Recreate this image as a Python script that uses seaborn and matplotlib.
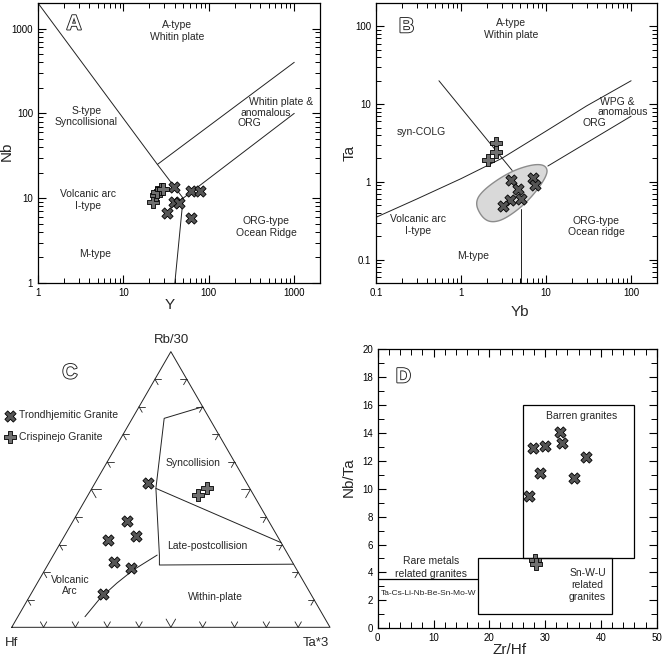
import matplotlib
matplotlib.use("Agg")
import matplotlib.pyplot as plt
import matplotlib.patheffects as pe
from matplotlib.ticker import FuncFormatter, MultipleLocator, LogLocator
import numpy as np
import pandas as pd
import seaborn as sns

sns.set_theme(style="white")
plt.rcParams['font.family'] = ['Liberation Sans', 'DejaVu Sans']

# ---------------- data ----------------
# A: Y vs Nb
a_tr_y = [39, 32.7, 39, 44.8, 62.6, 78.4, 62.6]
a_tr_nb = [13.4, 6.6, 9.0, 8.7, 12.2, 12.2, 5.8]
a_cr_y = [22.4, 23.8, 24.9, 27.2, 29.0]
a_cr_nb = [9.0, 10.8, 11.9, 12.7, 13.0]

# B: Yb vs Ta
b_tr_yb = [3.9, 4.74, 5.1, 3.79, 3.1, 7.1, 7.5]
b_tr_ta = [1.07, 0.80, 0.61, 0.59, 0.49, 1.11, 0.91]
b_cr_yb = [2.55, 2.6, 2.07]
b_cr_ta = [3.18, 2.44, 1.90]

# C: ternary Hf - Rb/30 - Ta*3 (fractions)
c_tr_hf = [0.31, 0.444, 0.444, 0.54, 0.561, 0.518, 0.654]
c_tr_rb = [0.525, 0.386, 0.331, 0.317, 0.236, 0.214, 0.120]
c_tr_ta = [0.165, 0.170, 0.225, 0.143, 0.203, 0.268, 0.226]
c_cr_hf = [0.174, 0.135]
c_cr_rb = [0.480, 0.504]
c_cr_ta = [0.346, 0.361]

# D: Zr/Hf vs Nb/Ta
d_tr_zrhf = [27.1, 27.9, 29.0, 29.9, 32.7, 33.1, 35.2, 37.3]
d_tr_nbta = [9.5, 12.94, 11.1, 13.05, 14.08, 13.3, 10.74, 12.29]
d_cr_zrhf = [28.1, 28.4]
d_cr_nbta = [4.9, 4.6]

# discrimination field boundaries
a_bound_1 = ([1, 25, 50], [2000, 25, 10])
a_bound_2 = ([50, 40], [10, 1])
a_bound_3 = ([25, 1000], [25, 400])
a_bound_4 = ([50, 1000], [10, 100])

b_bound_1 = ([0.1, 0.3, 1, 3, 10, 30, 100], [0.35, 0.6, 1.1, 2, 4.5, 9.5, 20])
b_bound_2 = ([0.55, 4.0], [20, 1.4])
b_bound_3 = ([10.5, 100], [1.6, 7])
b_bound_4 = ([5.1, 5.1], [0.05, 0.45])
b_field_lyb = [0.161, 0.239, 0.356, 0.532, 0.805, 1.020, 1.001, 0.844, 0.571, 0.278]
b_field_lta = [-0.258, -0.451, -0.528, -0.472, -0.236, 0.086, 0.215, 0.228, 0.129, -0.085]

c_syn = ([0.0, 0.142, 0.295, 0.405, 0.423, 0.0], [0.8, 0.758, 0.504, 0.262, 0.226, 0.229],
         [0.2, 0.100, 0.201, 0.333, 0.351, 0.771])
c_late = ([0.295, 0.0], [0.504, 0.307], [0.201, 0.693])
c_arc = ([0.75, 0.67, 0.59, 0.514, 0.412], [0.0385, 0.105, 0.160, 0.208, 0.262],
         [0.211, 0.225, 0.25, 0.278, 0.326])

d_barren = (26, 5, 20, 11)
d_snwu = (18, 1, 24, 4)
d_rare = ([0, 18], [3.5, 3.5])

TR_COLOR = "#555555"
CR_COLOR = "#707070"
LW = 0.7
FS = 7.5


def outline_letter(ax, x, y, s, **kw):
    t = ax.text(x, y, s, fontsize=15, fontweight="bold", color="white",
                ha="center", va="center", **kw)
    t.set_path_effects([pe.Stroke(linewidth=1.3, foreground="#222222"), pe.Normal()])


def plot_pts(ax, x, y, kind):
    if kind == "tr":
        sns.scatterplot(x=x, y=y, ax=ax, marker="X", s=65, color=TR_COLOR,
                        edgecolor="black", linewidth=0.6, zorder=5)
    else:
        sns.scatterplot(x=x, y=y, ax=ax, marker="P", s=65, color=CR_COLOR,
                        edgecolor="black", linewidth=0.6, zorder=5)


def style_box(ax):
    for sp in ax.spines.values():
        sp.set_visible(True)
        sp.set_color("black")
        sp.set_linewidth(0.9)
    ax.tick_params(which="both", direction="in", top=True, right=True,
                   bottom=True, left=True, colors="black", labelsize=7)
    ax.tick_params(which="major", length=6, width=0.8)
    ax.tick_params(which="minor", length=3.5, width=0.7)


fmt = FuncFormatter(lambda v, _: f"{v:g}")

fig = plt.figure(figsize=(6.63, 6.6), dpi=100)

# ---------------- A ----------------
axA = fig.add_axes([0.0573, 0.5712, 0.4253, 0.4242])
axA.set_xscale("log")
axA.set_yscale("log")
axA.set_xlim(1, 2000)
axA.set_ylim(1, 2000)
for bx, by in [a_bound_1, a_bound_2, a_bound_3, a_bound_4]:
    axA.plot(bx, by, color="#222222", lw=LW)
plot_pts(axA, a_tr_y, a_tr_nb, "tr")
plot_pts(axA, a_cr_y, a_cr_nb, "cr")
style_box(axA)
axA.xaxis.set_major_formatter(fmt)
axA.yaxis.set_major_formatter(fmt)
axA.xaxis.set_minor_locator(LogLocator(subs=np.arange(2, 10)))
axA.yaxis.set_minor_locator(LogLocator(subs=np.arange(2, 10)))
axA.set_xlabel("Y", fontsize=11)
axA.set_ylabel("Nb", fontsize=11)
axA.xaxis.set_label_coords(0.468, -0.054)
axA.yaxis.set_label_coords(-0.085, 0.469)
axA.text(43, 935, "A-type\nWhitin plate", fontsize=FS, ha="center", va="center")
axA.text(3.67, 92, "S-type\nSyncollisional", fontsize=FS, ha="center", va="center")
axA.text(703, 135, "Whitin plate &", fontsize=FS, ha="center", va="center")
axA.text(468, 100, "anomalous", fontsize=FS, ha="center", va="center")
axA.text(295, 76, "ORG", fontsize=FS, ha="center", va="center")
axA.text(3.9, 9.5, "Volcanic arc\nI-type", fontsize=FS, ha="center", va="center")
axA.text(4.7, 2.2, "M-type", fontsize=FS, ha="center", va="center")
axA.text(468, 4.6, "ORG-type\nOcean Ridge", fontsize=FS, ha="center", va="center")
outline_letter(axA, 0.128, 0.925, "A", transform=axA.transAxes)

# ---------------- B ----------------
axB = fig.add_axes([0.5671, 0.5712, 0.4234, 0.4242])
axB.set_xscale("log")
axB.set_yscale("log")
axB.set_xlim(0.1, 200)
axB.set_ylim(0.05, 200)

# rounded gray field (corner cutting of the outline)
pts = np.column_stack([b_field_lyb, b_field_lta])
for _ in range(4):
    nxt = np.roll(pts, -1, axis=0)
    q = 0.75 * pts + 0.25 * nxt
    r = 0.25 * pts + 0.75 * nxt
    pts = np.empty((2 * len(q), 2))
    pts[0::2] = q
    pts[1::2] = r
axB.fill(10 ** pts[:, 0], 10 ** pts[:, 1], facecolor="#d9d9d9",
         edgecolor="#8c8c8c", lw=1.0, zorder=2)
for bx, by in [b_bound_1, b_bound_2, b_bound_3, b_bound_4]:
    axB.plot(bx, by, color="#222222", lw=LW, zorder=1)
plot_pts(axB, b_tr_yb, b_tr_ta, "tr")
plot_pts(axB, b_cr_yb, b_cr_ta, "cr")
style_box(axB)
axB.xaxis.set_major_formatter(fmt)
axB.yaxis.set_major_formatter(fmt)
axB.xaxis.set_minor_locator(LogLocator(subs=np.arange(2, 10)))
axB.yaxis.set_minor_locator(LogLocator(subs=np.arange(2, 10)))
axB.set_xlabel("Yb", fontsize=11)
axB.set_ylabel("Ta", fontsize=11)
axB.xaxis.set_label_coords(0.513, -0.079)
axB.yaxis.set_label_coords(-0.069, 0.464)
axB.text(3.9, 92, "A-type\nWithin plate", fontsize=FS, ha="center", va="center")
axB.text(0.344, 4.4, "syn-COLG", fontsize=FS, ha="center", va="center")
axB.text(68.7, 10.7, "WPG &", fontsize=FS, ha="center", va="center")
axB.text(78.7, 8.0, "anomalous", fontsize=FS, ha="center", va="center")
axB.text(36.9, 5.75, "ORG", fontsize=FS, ha="center", va="center")
axB.text(0.31, 0.279, "Volcanic arc\nI-type", fontsize=FS, ha="center", va="center")
axB.text(1.37, 0.110, "M-type", fontsize=FS, ha="center", va="center")
axB.text(38.6, 0.268, "ORG-type\nOcean ridge", fontsize=FS, ha="center", va="center")
outline_letter(axB, 0.109, 0.915, "B", transform=axB.transAxes)

# ---------------- C (ternary) ----------------
axC = fig.add_axes([0, 0, 331 / 663, 330 / 660])
axC.set_xlim(-0.0368, 1.0031)
axC.set_ylim(-0.1027, 0.934)
axC.axis("off")
H = np.sqrt(3) / 2


def tern(hf, rb, ta):
    rb = np.asarray(rb, dtype=float)
    ta = np.asarray(ta, dtype=float)
    return ta + rb / 2, rb * H


axC.plot([0, 1, 0.5, 0], [0, 0, H, 0], color="#222222", lw=LW)
L = 0.02
for i in range(1, 10):
    f = i / 10
    ln = L * 1.5 if i == 5 else L
    # left side
    px, py = 0.5 * f, H * f
    axC.plot([px, px + ln], [py, py], color="#222222", lw=0.6)
    axC.plot([px, px + 0.5 * ln], [py, py - H * ln], color="#222222", lw=0.6)
    # right side
    px, py = 1 - 0.5 * f, H * f
    axC.plot([px, px - ln], [py, py], color="#222222", lw=0.6)
    axC.plot([px, px - 0.5 * ln], [py, py - H * ln], color="#222222", lw=0.6)
    # bottom
    px, py = f, 0
    axC.plot([px, px - 0.5 * ln], [py, py + H * ln], color="#222222", lw=0.6)
    axC.plot([px, px + 0.5 * ln], [py, py + H * ln], color="#222222", lw=0.6)

for hf, rb, ta in [c_syn, c_late, c_arc]:
    tx, ty = tern(hf, rb, ta)
    axC.plot(tx, ty, color="#222222", lw=LW)

tx, ty = tern(c_tr_hf, c_tr_rb, c_tr_ta)
sns.scatterplot(x=tx, y=ty, ax=axC, marker="X", s=65, color=TR_COLOR,
                edgecolor="black", linewidth=0.6, zorder=5, label="Trondhjemitic Granite")
tx, ty = tern(c_cr_hf, c_cr_rb, c_cr_ta)
sns.scatterplot(x=tx, y=ty, ax=axC, marker="P", s=65, color=CR_COLOR,
                edgecolor="black", linewidth=0.6, zorder=5, label="Crispinejo Granite")
axC.legend(loc="center left", bbox_to_anchor=(0.007, 1 - 426 / 660),
           bbox_transform=fig.transFigure, frameon=False, fontsize=FS,
           handletextpad=0.4, handlelength=1.0, labelspacing=1.1, borderpad=0,
           borderaxespad=0)

axC.text(0.503, 0.904, "Rb/30", fontsize=9.5, ha="center", va="center")
axC.text(0.0, -0.05, "Hf", fontsize=9.5, ha="center", va="center")
axC.text(0.957, -0.05, "Ta*3", fontsize=9.5, ha="center", va="center")
axC.text(0.571, 0.515, "Syncollision", fontsize=FS, ha="center", va="center")
axC.text(0.613, 0.255, "Late-postcollision", fontsize=FS, ha="center", va="center")
axC.text(0.183, 0.131, "Volcanic\nArc", fontsize=FS, ha="center", va="center")
axC.text(0.639, 0.094, "Within-plate", fontsize=FS, ha="center", va="center")
outline_letter(axC, 0.183, 0.799, "C")

# ---------------- D ----------------
axD = fig.add_axes([0.5697, 0.0480, 0.4208, 0.4232])
axD.set_xlim(0, 50)
axD.set_ylim(0, 20)
for (x0, y0, w, h) in [d_barren, d_snwu]:
    axD.add_patch(plt.Rectangle((x0, y0), w, h, fill=False, ec="black", lw=0.9))
axD.plot(d_rare[0], d_rare[1], color="black", lw=0.9)
plot_pts(axD, d_tr_zrhf, d_tr_nbta, "tr")
plot_pts(axD, d_cr_zrhf, d_cr_nbta, "cr")
style_box(axD)
axD.xaxis.set_major_locator(MultipleLocator(10))
axD.xaxis.set_minor_locator(MultipleLocator(2))
axD.yaxis.set_major_locator(MultipleLocator(2))
axD.yaxis.set_minor_locator(MultipleLocator(1))
axD.tick_params(which="major", length=6)
axD.tick_params(which="minor", length=4.5)
axD.set_xlabel("Zr/Hf", fontsize=11)
axD.set_ylabel("Nb/Ta", fontsize=11)
axD.xaxis.set_label_coords(0.474, -0.053)
axD.yaxis.set_label_coords(-0.078, 0.543)
axD.text(36.6, 15.2, "Barren granites", fontsize=FS, ha="center", va="center")
axD.text(9.5, 4.85, "Rare metals", fontsize=FS, ha="center", va="center")
axD.text(9.5, 3.9, "related granites", fontsize=FS, ha="center", va="center")
axD.text(9.1, 2.46, "Ta-Cs-Li-Nb-Be-Sn-Mo-W", fontsize=6, ha="center", va="center")
axD.text(37.6, 3.1, "Sn-W-U\nrelated\ngranites", fontsize=FS, ha="center", va="center",
         linespacing=1.3)
outline_letter(axD, 4.6, 18.0, "D")

fig.savefig("out.png", dpi=100)
